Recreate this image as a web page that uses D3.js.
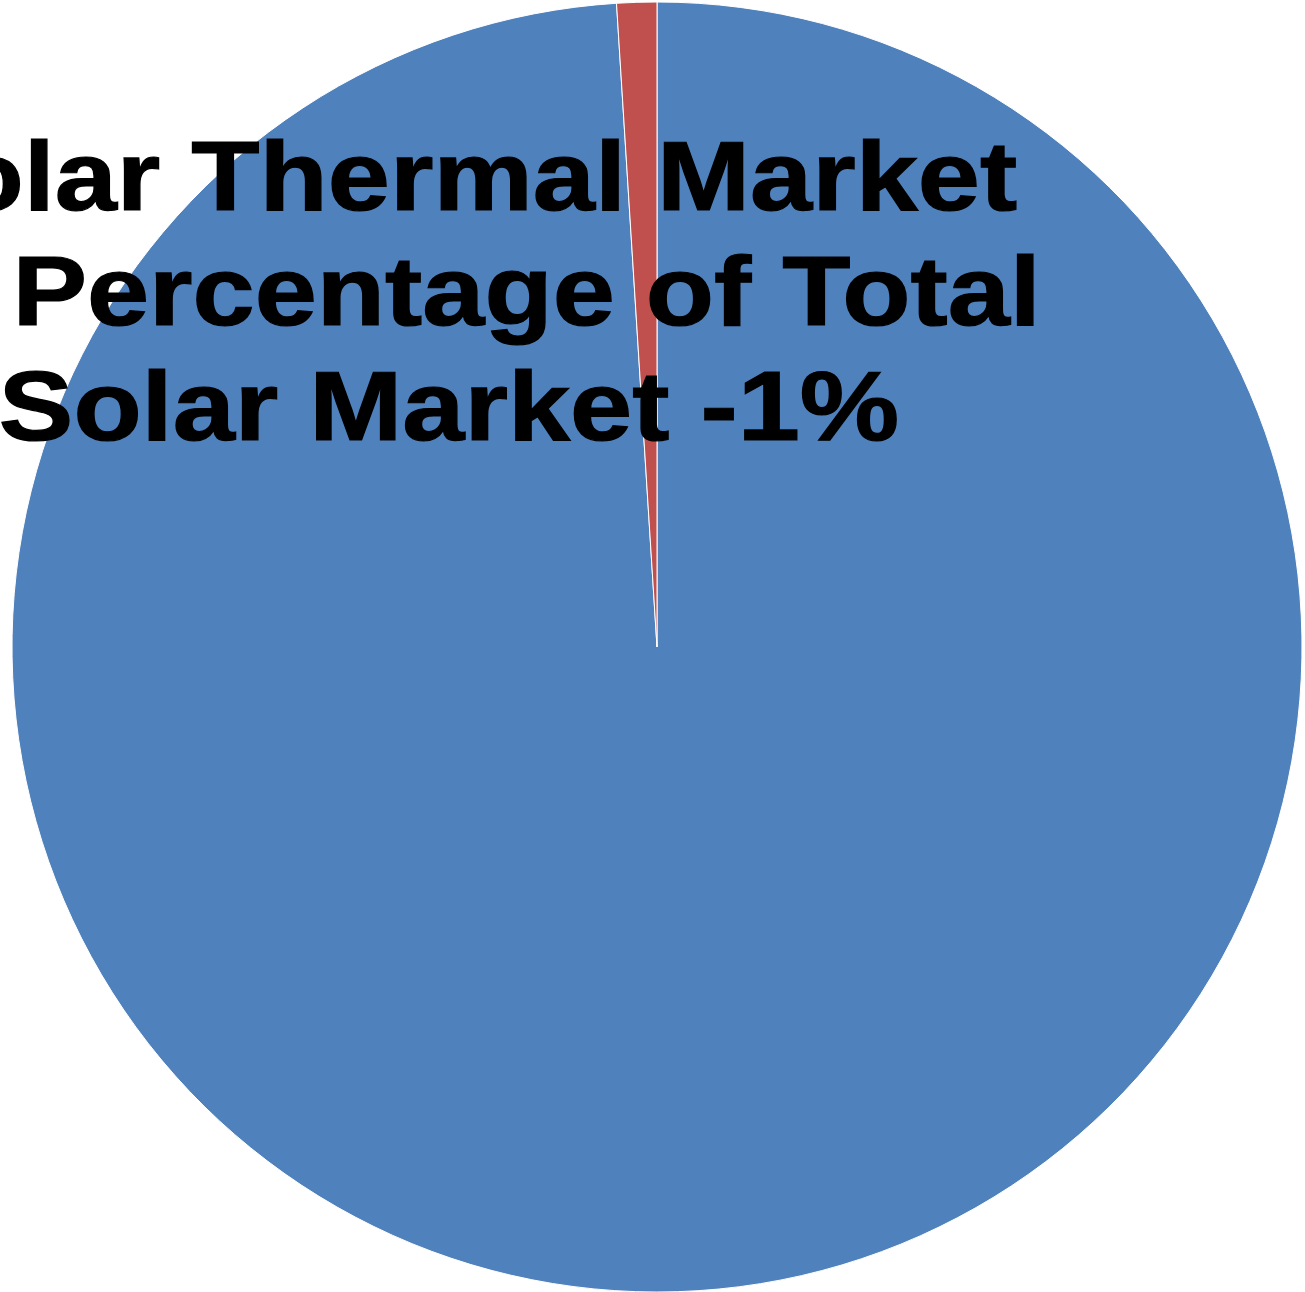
<!DOCTYPE html>
<html>
<head>
<meta charset="utf-8">
<script src="https://cdn.jsdelivr.net/npm/d3@7"></script>
<style>
  html, body { margin: 0; padding: 0; background: #ffffff; overflow: hidden; }
  svg { display: block; }
</style>
</head>
<body>
<div id="chart"></div>
<script>
// Market share data
const categories = ['Other Solar', 'Solar Thermal'];
const shares = [99, 1];
const colors = ['#4F81BD', '#C0504D'];
const titleLines = ['Solar Thermal Market', 'as Percentage of Total', 'Solar Market -1%'];

const width = 1305;
const height = 1292;

const svg = d3.select('#chart').append('svg')
  .attr('width', width)
  .attr('height', height);

// Pie centre and radius
const cx = 657;
const cy = 647;
const radius = 645;

const pie = d3.pie().sort(null).value(d => d.value);
const arc = d3.arc().innerRadius(0).outerRadius(radius);

const data = categories.map((c, i) => ({ name: c, value: shares[i] }));
const color = d3.scaleOrdinal().domain(categories).range(colors);

svg.append('g')
  .attr('class', 'slices')
  .attr('transform', `translate(${cx},${cy})`)
  .selectAll('path')
  .data(pie(data))
  .join('path')
  .attr('d', arc)
  .attr('fill', d => color(d.data.name))
  .attr('stroke', '#ffffff')
  .attr('stroke-width', 1);

// Title (centred off to the left, partly clipped like the original)
const title = svg.append('g')
  .attr('class', 'title')
  .attr('transform', 'translate(449,0) scale(1.14,1)');

title.selectAll('text')
  .data(titleLines)
  .join('text')
  .attr('x', 0)
  .attr('y', (d, i) => 210 + i * 115)
  .attr('text-anchor', 'middle')
  .style('font-family', '"Liberation Sans", Arial, sans-serif')
  .style('font-weight', 'bold')
  .style('font-size', '98px')
  .style('fill', '#000000')
  .style('stroke', '#000000')
  .style('stroke-width', 1.2)
  .text(d => d);
</script>
</body>
</html>
